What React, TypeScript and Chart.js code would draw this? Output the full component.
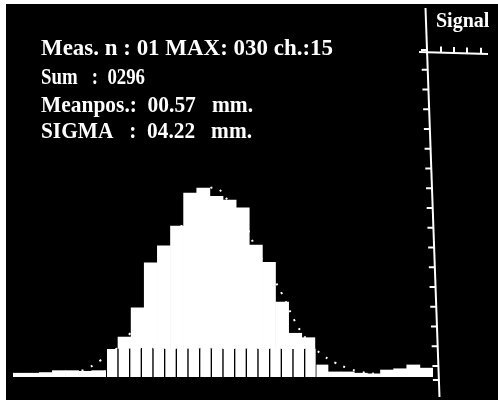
import React, { useEffect, useRef } from "react";
import { Chart, registerables } from "chart.js";

Chart.register(...registerables);

// Histogram channels (32 bins)
const CHANNELS = [
  "1", "2", "3", "4", "5", "6", "7", "8", "9", "10", "11", "12", "13", "14", "15", "16",
  "17", "18", "19", "20", "21", "22", "23", "24", "25", "26", "27", "28", "29", "30", "31", "32",
];
// Counts per channel
const COUNTS = [
  0.6, 0.6, 0.7, 1.0, 1.0, 0.9, 1.0, 1.0,
  6.3, 10.9, 18.0, 20.7, 23.8, 29.0, 29.8, 28.5, 27.9, 26.7, 20.8, 18.1, 11.8, 6.9, 6.2,
  1.9, 0.8, 0.8, 0.6, 0.5, 1.1, 1.3, 1.9, 1.4,
];
// Dotted gaussian fit
const FIT = [
  null, null, null, null, 0.6, 1.2, 2.4, 3.8, 5.8, 8.7, 12.8, 17.5, 22.3, 26.5, 29.2, 29.8,
  27.5, 25.0, 20.3, 16.8, 13.1, 8.7, 5.6, 3.6, 2.3, 1.4, 0.8, 0.5, null, null, null, null,
];
// Wire comb (36 positions)
const WIRES = [
  "w1", "w2", "w3", "w4", "w5", "w6", "w7", "w8", "w9", "w10", "w11", "w12",
  "w13", "w14", "w15", "w16", "w17", "w18", "w19", "w20", "w21", "w22", "w23", "w24",
  "w25", "w26", "w27", "w28", "w29", "w30", "w31", "w32", "w33", "w34", "w35", "w36",
];
const WIRE_SIGNAL = [
  null, null, null, null, null, null, null, null,
  4.4, 4.5, 4.5, 4.6, 4.5, 4.4, 4.5, 4.5, 4.6, 4.5, 4.4, 4.5, 4.5, 4.4, 4.5, 4.4, 4.4, 4.5,
  null, null, null, null, null, null, null, null, null, null,
];
const STAT_LINES = [
  "Meas. n : 01 MAX: 030 ch.:15",
  "Sum   :  0296",
  "Meanpos.:  00.57   mm.",
  "SIGMA   :  04.22   mm.",
];
const SIGNAL_LABEL = "Signal";
const Y_MAX = 50;
const AXIS_TICKS = 17;

const scopePlugin = {
  id: "scope",
  beforeDraw(chart: any) {
    const ctx = chart.ctx;
    ctx.save();
    ctx.fillStyle = "#ffffff";
    ctx.fillRect(0, 0, chart.width, chart.height);
    ctx.fillStyle = "#000000";
    ctx.fillRect(6, 4, chart.width - 6, chart.height - 4);
    ctx.restore();
  },
  afterDraw(chart: any) {
    const ctx = chart.ctx;
    ctx.save();
    ctx.strokeStyle = "#ffffff";
    ctx.fillStyle = "#ffffff";
    ctx.lineWidth = 2;
    // slanted vertical axis
    const x0 = 425.5, y0 = 8, x1 = 439.5, y1 = 397;
    const ax = (y: number) => x0 + ((y - y0) * (x1 - x0)) / (y1 - y0);
    ctx.beginPath();
    ctx.moveTo(x0, y0);
    ctx.lineTo(x1, y1);
    ctx.stroke();
    for (let k = 0; k < AXIS_TICKS; k++) {
      const y = 50 + 19.75 * k;
      ctx.beginPath();
      ctx.moveTo(ax(y) - 6, y);
      ctx.lineTo(ax(y), y);
      ctx.stroke();
    }
    ctx.beginPath();
    ctx.moveTo(ax(380) - 6, 380);
    ctx.lineTo(ax(380), 380);
    ctx.stroke();
    // top horizontal signal scale
    const hy = (x: number) => 52 + ((x - 420) * 2) / 68;
    ctx.beginPath();
    ctx.moveTo(419, hy(419));
    ctx.lineTo(488, hy(488));
    ctx.stroke();
    [441, 454, 467, 481].forEach((x) => {
      ctx.beginPath();
      ctx.moveTo(x, hy(x) - 6);
      ctx.lineTo(x, hy(x));
      ctx.stroke();
    });
    ctx.font = "bold 20px 'Liberation Serif'";
    ctx.textBaseline = "alphabetic";
    ctx.fillText(SIGNAL_LABEL, 436, 27);

    // statistics text
    ctx.font = "bold 24px 'Liberation Serif'";
    const baselines = [55, 84, 112, 138];
    const targets = [292, 104, 212, 211];
    STAT_LINES.forEach((t, i) => {
      const w = ctx.measureText(t).width;
      const s = targets[i] / w;
      ctx.save();
      ctx.translate(41, baselines[i]);
      ctx.scale(s, 1);
      ctx.fillText(t, 0, 0);
      ctx.restore();
    });
    ctx.restore();
  },
};

export default function App() {
  const ref = useRef<HTMLCanvasElement>(null);
  useEffect(() => {
    if (!ref.current) return;
    const chart = new Chart(ref.current, {
      type: "bar",
      data: {
        labels: CHANNELS,
        datasets: [
          {
            type: "bar",
            label: "wires",
            data: WIRE_SIGNAL as any,
            xAxisID: "x2",
            yAxisID: "y",
            backgroundColor: "#ffffff",
            borderColor: "#000000",
            borderWidth: { left: 1, right: 1, top: 0, bottom: 0 } as any,
            borderSkipped: false as any,
            barPercentage: 1,
            categoryPercentage: 1,
            grouped: false,
            order: 0,
          },
          {
            type: "bar",
            label: "counts",
            data: COUNTS,
            xAxisID: "x",
            yAxisID: "y",
            backgroundColor: "#ffffff",
            borderWidth: 0,
            barPercentage: 1,
            categoryPercentage: 1,
            grouped: false,
            order: 1,
          },
          {
            type: "line",
            label: "fit",
            data: FIT as any,
            xAxisID: "x",
            yAxisID: "y",
            borderColor: "#ffffff",
            borderWidth: 2,
            borderDash: [2, 8],
            pointRadius: 0,
            tension: 0.4,
            fill: false,
            order: 2,
          } as any,
        ],
      },
      options: {
        responsive: false,
        animation: false,
        events: [],
        layout: { padding: { left: 13, right: 65, top: 60, bottom: 23 } },
        plugins: { legend: { display: false }, tooltip: { enabled: false } },
        scales: {
          x: { type: "category", display: false, offset: true, grid: { offset: true } },
          x2: { type: "category", labels: WIRES, display: false, offset: true, grid: { offset: true } },
          y: { type: "linear", display: false, min: 0, max: Y_MAX },
        },
      },
      plugins: [scopePlugin],
    });
    return () => chart.destroy();
  }, []);
  return (
    <div style={{ position: "fixed", left: 0, top: 0, width: 498, height: 400 }}>
      <canvas ref={ref} width={498} height={400} style={{ display: "block", width: 498, height: 400 }} />
    </div>
  );
}
